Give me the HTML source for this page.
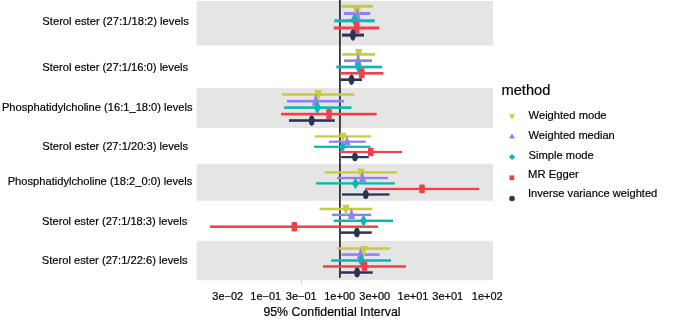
<!DOCTYPE html>
<html><head><meta charset="utf-8"><title>MR forest plot</title>
<style>
html,body{margin:0;padding:0;background:#fff}
body{width:685px;height:322px;overflow:hidden}
svg{display:block}
text{font-family:"Liberation Sans",sans-serif;fill:#000;stroke:#000;stroke-width:0.18px}
.yl{font-size:11.45px}
.xl{font-size:11px;text-anchor:middle}
.lg{font-size:11.1px}
</style></head><body>
<svg width="685" height="322" viewBox="0 0 685 322">
<rect width="685" height="322" fill="#ffffff"/>
<rect x="196.6" y="0.9" width="296.4" height="44.6" fill="#e5e5e5"/>
<rect x="196.6" y="88.0" width="296.4" height="40.0" fill="#e5e5e5"/>
<rect x="196.6" y="163.8" width="296.4" height="37.0" fill="#e5e5e5"/>
<rect x="196.6" y="240.8" width="296.4" height="39.4" fill="#e5e5e5"/>
<rect x="301.2" y="280.4" width="0.8" height="4.4" fill="#cfcfcf"/>
<rect x="339.15" y="0" width="1.55" height="277.9" fill="#151515"/>
<rect x="341.5" y="4.80" width="31.30" height="3.0" fill="#c9cb3f"/>
<rect x="343.8" y="12.00" width="26.40" height="3.0" fill="#8f7ff7"/>
<rect x="334.2" y="19.30" width="40.60" height="3.0" fill="#0bb5b1"/>
<rect x="333.8" y="26.50" width="45.20" height="3.0" fill="#f43f4a"/>
<rect x="342.0" y="33.60" width="22.00" height="3.0" fill="#2a3354"/>
<rect x="342.5" y="53.05" width="32.50" height="2.7" fill="#c9cb3f"/>
<rect x="344.0" y="59.35" width="28.00" height="2.7" fill="#8f7ff7"/>
<rect x="336.25" y="65.65" width="45.75" height="2.7" fill="#0bb5b1"/>
<rect x="340.3" y="71.95" width="43.10" height="2.7" fill="#f43f4a"/>
<rect x="340.5" y="78.35" width="21.50" height="2.7" fill="#2a3354"/>
<rect x="282.0" y="93.20" width="72.50" height="2.6" fill="#c9cb3f"/>
<rect x="287.0" y="99.90" width="57.20" height="2.6" fill="#8f7ff7"/>
<rect x="284.0" y="106.30" width="67.40" height="2.6" fill="#0bb5b1"/>
<rect x="281.0" y="112.80" width="95.70" height="2.6" fill="#f43f4a"/>
<rect x="289.0" y="119.20" width="45.80" height="2.6" fill="#2a3354"/>
<rect x="314.7" y="135.30" width="56.30" height="2.2" fill="#c9cb3f"/>
<rect x="328.8" y="140.60" width="36.95" height="2.2" fill="#8f7ff7"/>
<rect x="314.1" y="145.70" width="56.40" height="2.2" fill="#0bb5b1"/>
<rect x="339.25" y="150.90" width="62.75" height="2.2" fill="#f43f4a"/>
<rect x="341.2" y="156.00" width="27.55" height="2.2" fill="#2a3354"/>
<rect x="324.5" y="171.25" width="72.50" height="2.3" fill="#c9cb3f"/>
<rect x="337.0" y="176.85" width="50.90" height="2.3" fill="#8f7ff7"/>
<rect x="315.75" y="182.25" width="79.15" height="2.3" fill="#0bb5b1"/>
<rect x="365.0" y="187.80" width="114.25" height="2.3" fill="#f43f4a"/>
<rect x="342.0" y="193.35" width="47.50" height="2.3" fill="#2a3354"/>
<rect x="319.5" y="207.75" width="52.50" height="2.5" fill="#c9cb3f"/>
<rect x="332.0" y="213.65" width="39.10" height="2.5" fill="#8f7ff7"/>
<rect x="333.8" y="219.55" width="59.20" height="2.5" fill="#0bb5b1"/>
<rect x="210.0" y="225.45" width="168.00" height="2.5" fill="#f43f4a"/>
<rect x="340.2" y="231.35" width="31.55" height="2.5" fill="#2a3354"/>
<rect x="337.2" y="247.25" width="52.80" height="2.5" fill="#c9cb3f"/>
<rect x="341.4" y="253.35" width="38.10" height="2.5" fill="#8f7ff7"/>
<rect x="331.1" y="259.25" width="59.90" height="2.5" fill="#0bb5b1"/>
<rect x="323.1" y="265.25" width="82.90" height="2.5" fill="#f43f4a"/>
<rect x="340.2" y="271.25" width="32.55" height="2.5" fill="#2a3354"/>
<polygon points="353.1,5 361.0,5 360.7,8.2 359.9,12.2 357.1,17.5 354.3,12.2 353.5,8.2" fill="#c9cb3f"/>
<polygon points="353.50,19.60 360.70,19.60 357.10,7.60" fill="#8f7ff7"/>
<polygon points="354.30,13.60 357.80,19.70 354.30,25.80 350.80,19.70" fill="#0bb5b1"/>
<rect x="353.95" y="22.10" width="5.5" height="11.40" rx="1.2" fill="#f43f4a"/>
<ellipse cx="352.90" cy="35.05" rx="2.85" ry="5.75" fill="#2a3354"/>
<polygon points="355.05,49.10 362.45,49.10 358.75,60.00" fill="#c9cb3f"/>
<polygon points="354.40,64.90 361.60,64.90 358.00,52.90" fill="#8f7ff7"/>
<polygon points="358.50,60.36 362.00,67.00 358.50,73.64 355.00,67.00" fill="#0bb5b1"/>
<rect x="359.00" y="68.24" width="5.5" height="10.12" rx="1.2" fill="#f43f4a"/>
<ellipse cx="351.50" cy="79.70" rx="2.85" ry="5.19" fill="#2a3354"/>
<polygon points="314.50,89.94 321.90,89.94 318.20,102.61" fill="#c9cb3f"/>
<polygon points="312.10,105.82 319.30,105.82 315.70,93.34" fill="#8f7ff7"/>
<polygon points="317.30,100.77 320.80,107.60 317.30,114.42 313.80,107.60" fill="#0bb5b1"/>
<rect x="326.25" y="108.90" width="5.5" height="10.40" rx="1.2" fill="#f43f4a"/>
<ellipse cx="311.70" cy="120.50" rx="2.85" ry="5.33" fill="#2a3354"/>
<polygon points="339.30,132.77 346.70,132.77 343.00,142.86" fill="#c9cb3f"/>
<polygon points="343.40,145.38 350.60,145.38 347.00,135.44" fill="#8f7ff7"/>
<polygon points="342.50,141.37 346.00,146.80 342.50,152.23 339.00,146.80" fill="#0bb5b1"/>
<rect x="368.00" y="147.86" width="5.5" height="8.28" rx="1.2" fill="#f43f4a"/>
<ellipse cx="355.00" cy="157.10" rx="2.85" ry="4.24" fill="#2a3354"/>
<polygon points="357.30,168.52 364.70,168.52 361.00,179.30" fill="#c9cb3f"/>
<polygon points="358.90,181.92 366.10,181.92 362.50,171.32" fill="#8f7ff7"/>
<polygon points="355.50,177.60 359.00,183.40 355.50,189.20 352.00,183.40" fill="#0bb5b1"/>
<rect x="419.25" y="184.53" width="5.5" height="8.84" rx="1.2" fill="#f43f4a"/>
<ellipse cx="365.75" cy="194.50" rx="2.85" ry="4.53" fill="#2a3354"/>
<polygon points="342.30,204.86 349.70,204.86 346.00,216.36" fill="#c9cb3f"/>
<polygon points="347.90,219.09 355.10,219.09 351.50,207.76" fill="#8f7ff7"/>
<polygon points="363.50,214.61 367.00,220.80 363.50,227.00 360.00,220.80" fill="#0bb5b1"/>
<rect x="291.55" y="221.98" width="5.5" height="9.44" rx="1.2" fill="#f43f4a"/>
<ellipse cx="356.90" cy="232.60" rx="2.85" ry="4.84" fill="#2a3354"/>
<polygon points="360.30,246.00 367.70,246.00 364.00,257.50" fill="#c9cb3f"/>
<polygon points="356.90,258.86 364.10,258.86 360.50,247.34" fill="#8f7ff7"/>
<polygon points="361.25,254.20 364.75,260.50 361.25,266.80 357.75,260.50" fill="#0bb5b1"/>
<rect x="361.65" y="261.70" width="5.5" height="9.60" rx="1.2" fill="#f43f4a"/>
<ellipse cx="357.10" cy="272.50" rx="2.85" ry="4.92" fill="#2a3354"/>
<text class="yl" x="42.30" y="24.65" textLength="146.50" lengthAdjust="spacingAndGlyphs">Sterol ester (27:1/18:2) levels</text>
<text class="yl" x="42.30" y="71.45" textLength="145.90" lengthAdjust="spacingAndGlyphs">Sterol ester (27:1/16:0) levels</text>
<text class="yl" x="1.95" y="111.40" textLength="190.65" lengthAdjust="spacingAndGlyphs">Phosphatidylcholine (16:1_18:0) levels</text>
<text class="yl" x="42.30" y="149.55" textLength="145.70" lengthAdjust="spacingAndGlyphs">Sterol ester (27:1/20:3) levels</text>
<text class="yl" x="7.70" y="184.90" textLength="184.60" lengthAdjust="spacingAndGlyphs">Phosphatidylcholine (18:2_0:0) levels</text>
<text class="yl" x="42.00" y="224.65" textLength="145.30" lengthAdjust="spacingAndGlyphs">Sterol ester (27:1/18:3) levels</text>
<text class="yl" x="41.80" y="264.00" textLength="145.70" lengthAdjust="spacingAndGlyphs">Sterol ester (27:1/22:6) levels</text>
<text class="xl" x="227.75" y="299.9">3e−02</text>
<text class="xl" x="265.8" y="299.9">1e−01</text>
<text class="xl" x="301.25" y="299.9">3e−01</text>
<text class="xl" x="339.7" y="299.9">1e+00</text>
<text class="xl" x="374.75" y="299.9">3e+00</text>
<text class="xl" x="413.0" y="299.9">1e+01</text>
<text class="xl" x="447.75" y="299.9">3e+01</text>
<text class="xl" x="487.3" y="299.9">1e+02</text>
<text x="263.4" y="315.75" font-size="12.7" textLength="137.2" lengthAdjust="spacingAndGlyphs">95% Confidential Interval</text>
<text x="501.4" y="95.3" font-size="14.4" textLength="49" lengthAdjust="spacingAndGlyphs">method</text>
<text class="lg" x="528.6" y="119.1" textLength="77.95" lengthAdjust="spacingAndGlyphs">Weighted mode</text>
<text class="lg" x="528.6" y="138.7" textLength="86.20" lengthAdjust="spacingAndGlyphs">Weighted median</text>
<text class="lg" x="528.6" y="159.0" textLength="65.20" lengthAdjust="spacingAndGlyphs">Simple mode</text>
<text class="lg" x="528.0" y="177.5" textLength="50.80" lengthAdjust="spacingAndGlyphs">MR Egger</text>
<text class="lg" x="528.0" y="197.0" textLength="129.30" lengthAdjust="spacingAndGlyphs">Inverse variance weighted</text>
<polygon points="509,114.3 515,114.3 512,119.4" fill="#c9cb3f"/>
<polygon points="509,138.6 515,138.6 512,133.5" fill="#8f7ff7"/>
<polygon points="512,153.9 515.1,157 512,160.1 508.9,157" fill="#0bb5b1"/>
<rect x="509.4" y="175.4" width="4.8" height="4.8" fill="#f43f4a"/>
<ellipse cx="512" cy="198.5" rx="2.8" ry="2.8" fill="#2a3354"/>
</svg></body></html>
